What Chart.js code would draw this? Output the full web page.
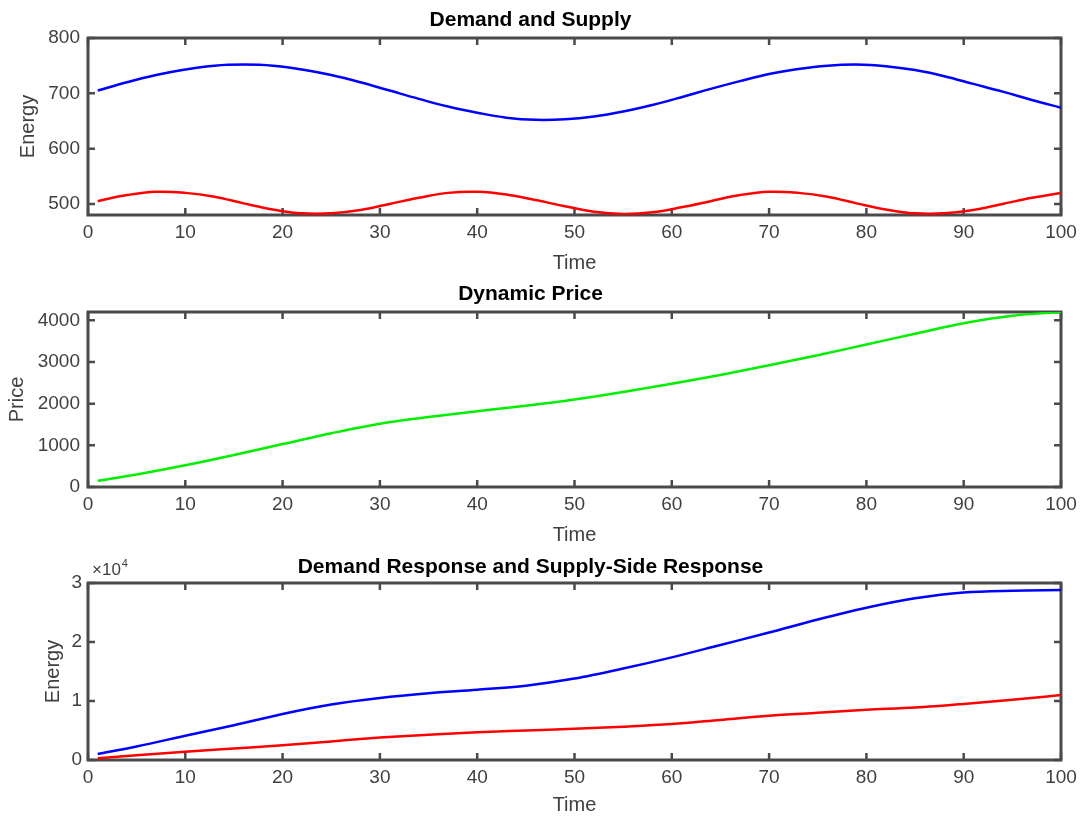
<!DOCTYPE html>
<html>
<head>
<meta charset="utf-8">
<script src="https://cdn.jsdelivr.net/npm/chart.js@4/dist/chart.umd.min.js"></script>
<style>
  body { margin: 0; background: #fff; }
  .wrap { position: relative; width: 1085px; height: 821px; }
  canvas { position: absolute; left: 0; }
</style>
</head>
<body>
<div class="wrap">
  <canvas id="c1" width="1085" height="280" style="top:0"></canvas>
  <canvas id="c2" width="1085" height="270" style="top:280px"></canvas>
  <canvas id="c3" width="1085" height="271" style="top:550px"></canvas>
</div>
<script>
// ---- data ----
const xTicks = [0, 10, 20, 30, 40, 50, 60, 70, 80, 90, 100];

// demand and supply, sampled every 3 steps
const timeA = [1, 4, 7, 10, 13, 16, 19, 22, 25, 28, 31, 34, 37, 40, 43, 46, 49, 52, 55, 58, 61, 64, 67, 70, 73, 76, 79, 82, 85, 88, 91, 94, 97, 100];
const demand = [705, 720, 733, 743, 750, 752, 750, 743, 733, 720, 705, 690, 676, 665, 656, 652, 653, 658, 667, 679, 693, 708, 722, 735, 744, 750, 752, 749, 742, 731, 717, 703, 688, 674];
const supply = [505, 516, 522, 520, 513, 501, 490, 483, 483, 489, 500, 511, 520, 522, 517, 507, 496, 486, 482, 485, 494, 505, 516, 522, 520, 513, 501, 490, 483, 483, 489, 500, 511, 520];
const yTicks1 = [500, 600, 700, 800];

// price and responses, sampled every 5 steps
const timeB = [1, 5, 10, 15, 20, 25, 30, 35, 40, 45, 50, 55, 60, 65, 70, 75, 80, 85, 90, 95, 100];
const price = [150, 300, 520, 770, 1030, 1290, 1520, 1680, 1820, 1950, 2100, 2280, 2480, 2690, 2920, 3160, 3420, 3680, 3930, 4110, 4200];
const yTicks2 = [0, 1000, 2000, 3000, 4000];

const demandResp = [1000, 2300, 4100, 5900, 7800, 9400, 10500, 11300, 11900, 12600, 13800, 15500, 17400, 19500, 21600, 23800, 25800, 27400, 28400, 28700, 28800];
const supplyResp = [300, 800, 1400, 1950, 2500, 3150, 3800, 4300, 4700, 5000, 5300, 5650, 6100, 6800, 7500, 8000, 8500, 8900, 9500, 10200, 11000];
const yTicks3 = [0, 10000, 20000, 30000];

const FONT = '"Liberation Sans", Arial, Helvetica, sans-serif';
const TXT = '#404040';

function pts(xs, ys) {
  return xs.map((x, i) => ({ x: x, y: ys[i] }));
}

// box round the axes with inward ticks on all four sides
const frame = {
  id: 'frame',
  beforeDatasetsDraw(chart) {
    const { ctx, chartArea: a, scales } = chart;
    const x = scales.x, y = scales.y;
    ctx.save();
    ctx.strokeStyle = '#4a4a4a';
    ctx.lineWidth = 2.5;
    ctx.beginPath();
    x.ticks.forEach(t => {
      const px = x.getPixelForValue(t.value);
      ctx.moveTo(px, a.bottom); ctx.lineTo(px, a.bottom - 7);
      ctx.moveTo(px, a.top); ctx.lineTo(px, a.top + 7);
    });
    y.ticks.forEach(t => {
      const py = y.getPixelForValue(t.value);
      ctx.moveTo(a.left, py); ctx.lineTo(a.left + 7, py);
      ctx.moveTo(a.right, py); ctx.lineTo(a.right - 7, py);
    });
    ctx.stroke();
    ctx.lineWidth = 3;
    ctx.strokeRect(a.left, a.top, a.right - a.left, a.bottom - a.top);
    ctx.restore();
  }
};

function makeChart(id, o) {
  return new Chart(document.getElementById(id), {
    type: 'line',
    data: { datasets: o.datasets },
    plugins: [frame].concat(o.plugins || []),
    options: {
      responsive: false,
      animation: false,
      layout: { padding: { left: 0, right: 24, top: 0, bottom: 0 } },
      elements: { point: { radius: 0 }, line: { borderWidth: 2.5 } },
      plugins: {
        legend: { display: false },
        tooltip: { enabled: false },
        title: {
          display: true,
          text: o.title,
          color: '#000',
          font: { family: FONT, size: 21, weight: 'bold', lineHeight: 1.2 },
          padding: o.titlePad
        }
      },
      scales: {
        x: {
          type: 'linear',
          min: 0,
          max: 100,
          afterBuildTicks: s => { s.ticks = xTicks.map(v => ({ value: v })); },
          afterFit: s => { s.height = o.xH; },
          grid: { display: false, drawTicks: false },
          border: { display: false },
          ticks: { color: TXT, padding: 6, font: { family: FONT, size: 19 } },
          title: {
            display: true,
            text: 'Time',
            color: TXT,
            font: { family: FONT, size: 20, lineHeight: 1.2 },
            padding: { top: 0, bottom: o.xTitlePad }
          }
        },
        y: {
          min: o.yMin,
          max: o.yMax,
          afterBuildTicks: s => { s.ticks = o.yTicks.map(v => ({ value: v })); },
          afterFit: s => { s.width = 88; },
          grid: { display: false, drawTicks: false },
          border: { display: false },
          ticks: {
            color: TXT,
            padding: o.yTickPad || 8,
            font: { family: FONT, size: 19 },
            callback: o.yFmt || (v => String(v))
          },
          title: {
            display: true,
            text: o.yTitle,
            color: TXT,
            font: { family: FONT, size: 20, lineHeight: 1.2 },
            padding: { top: o.yTitlePad, bottom: 0 }
          }
        }
      }
    }
  });
}

makeChart('c1', {
  title: 'Demand and Supply',
  titlePad: { top: 7.4, bottom: 5.4 },
  xH: 65, xTitlePad: 5,
  yMin: 480, yMax: 800, yTicks: yTicks1,
  yTitle: 'Energy', yTitlePad: 16.5,
  datasets: [
    { data: pts(timeA, demand), borderColor: '#0000ff', tension: 0.4 },
    { data: pts(timeA, supply), borderColor: '#ff0000', tension: 0.4 }
  ]
});

makeChart('c2', {
  title: 'Dynamic Price',
  titlePad: { top: 1.4, bottom: 5.4 },
  xH: 63, xTitlePad: 3,
  yMin: 0, yMax: 4200, yTicks: yTicks2,
  yTitle: 'Price', yTitlePad: 5,
  datasets: [
    { data: pts(timeB, price), borderColor: '#00ee00', cubicInterpolationMode: 'monotone' }
  ]
});

// "x10^4" multiplier above the axis
const exponent = {
  id: 'exponent',
  afterDraw(chart) {
    const { ctx, chartArea: a } = chart;
    ctx.save();
    ctx.fillStyle = TXT;
    ctx.textBaseline = 'alphabetic';
    ctx.font = '17px ' + FONT;
    ctx.fillText('\u00d710', a.left + 4, a.top - 8);
    const w = ctx.measureText('\u00d710').width;
    ctx.font = '11px ' + FONT;
    ctx.fillText('4', a.left + 5 + w, a.top - 16);
    ctx.restore();
  }
};

makeChart('c3', {
  title: 'Demand Response and Supply-Side Response',
  titlePad: { top: 4.4, bottom: 3.4 },
  xH: 61, xTitlePad: 4,
  yMin: 0, yMax: 30000, yTicks: yTicks3,
  yTitle: 'Energy', yTitlePad: 41.5, yTickPad: 6,
  yFmt: v => String(v / 10000),
  plugins: [exponent],
  datasets: [
    { data: pts(timeB, demandResp), borderColor: '#0000ff', cubicInterpolationMode: 'monotone' },
    { data: pts(timeB, supplyResp), borderColor: '#ff0000', cubicInterpolationMode: 'monotone' }
  ]
});
</script>
</body>
</html>
